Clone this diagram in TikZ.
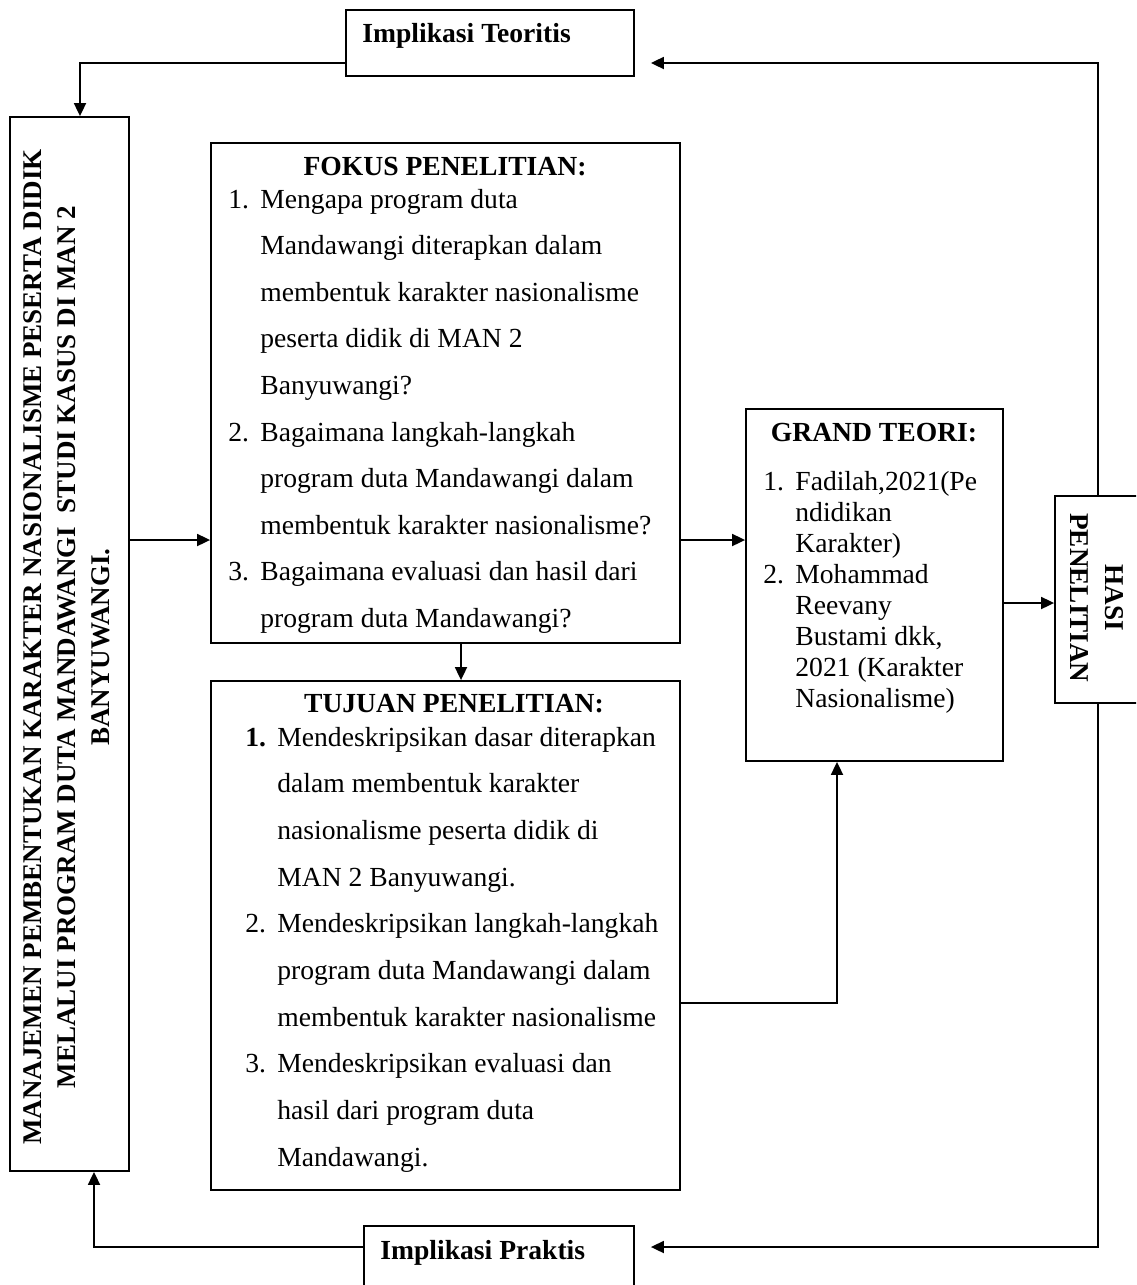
\documentclass[tikz,border=0pt]{standalone}
\usepackage{fontspec}
\setmainfont{Liberation Serif}
\usetikzlibrary{arrows.meta,fit,calc}
\begin{document}
\begin{tikzpicture}[x=0.5pt,y=-0.5pt,
  box/.style={draw,line width=0.9pt,inner sep=0pt,rectangle},
  arr/.style={line width=0.9pt,-{Triangle[length=6.5pt,width=6pt]}},
  txt/.style={anchor=base west,inner sep=0pt,font=\fontsize{13.8}{16}\selectfont},
  ttl/.style={anchor=base,inner sep=0pt,font=\fontsize{13.8}{16}\selectfont\bfseries},
  vtxt/.style={align=center,inner sep=0pt,font=\fontsize{13.5}{17}\selectfont\bfseries},
]
\useasboundingbox (0,0) rectangle (1136,1285);
\fill[white] (0,0) rectangle (1136,1285);
\clip (0,0) rectangle (1136,1285);

% boxes
\node[box,fit={(346,10)(634,76)}] (impT) {};
\node[ttl,anchor=base west] (impTt) at (362,42) {Implikasi Teoritis};
\node[box,fit={(364,1226)(634,1320)}] (impP) {};
\node[ttl,anchor=base west] (impPt) at (380,1259) {Implikasi Praktis};

\node[box,fit={(10,117)(129,1171)}] (left) {};
\node[vtxt,rotate=90] (leftt) at (67,647) {MANAJEMEN PEMBENTUKAN KARAKTER NASIONALISME PESERTA DIDIK\\ MELALUI PROGRAM DUTA MANDAWANGI\ \ STUDI KASUS DI MAN 2\\ BANYUWANGI.};

\node[box,fit={(211,143)(680,643)}] (fokus) {};
\node[box,fit={(211,681)(680,1190)}] (tujuan) {};
\node[box,fit={(746,409)(1003,761)}] (grand) {};
\node[box,fit={(1055,496)(1160,703)}] (hasil) {};
\node[vtxt,rotate=-90,font=\fontsize{13.6}{17.5}\selectfont\bfseries] (hasilt) at (1097,598) {HASI\\PENELITIAN};

% FOKUS text
\node[ttl] (ft) at (445,175) {FOKUS PENELITIAN:};
\foreach \t [count=\i from 0] in {Mengapa program duta, Mandawangi diterapkan dalam, membentuk karakter nasionalisme, peserta didik di MAN 2, Banyuwangi?, Bagaimana langkah-langkah, program duta Mandawangi dalam, membentuk karakter nasionalisme?, Bagaimana evaluasi dan hasil dari, program duta Mandawangi?}
  \node[txt] (fl\i) at (260,208+46.6*\i) {\t};
\node[txt] (fn1) at (228,208) {1.};
\node[txt] (fn2) at (228,208+46.6*5) {2.};
\node[txt] (fn3) at (228,208+46.6*8) {3.};

% TUJUAN text
\node[ttl] (tt) at (454,712) {TUJUAN PENELITIAN:};
\foreach \t [count=\i from 0] in {Mendeskripsikan dasar diterapkan, dalam membentuk karakter, nasionalisme peserta didik di, MAN 2 Banyuwangi., Mendeskripsikan langkah-langkah, program duta Mandawangi dalam, membentuk karakter nasionalisme, Mendeskripsikan evaluasi dan, hasil dari program duta, Mandawangi.}
  \node[txt] (tl\i) at (277,746+46.7*\i) {\t};
\node[txt] (tn1) at (245,746) {\bfseries 1.};
\node[txt] (tn2) at (245,746+46.7*4) {2.};
\node[txt] (tn3) at (245,746+46.7*7) {3.};

% GRAND text
\node[ttl] (gt) at (874,441) {GRAND TEORI:};
\foreach \t [count=\i from 0] in {{Fadilah,2021(Pe}, ndidikan, Karakter), Mohammad, Reevany, {Bustami dkk,}, 2021 (Karakter, Nasionalisme)}
  \node[txt] (gl\i) at (795,490+31*\i) {\t};
\node[txt] (gn1) at (763,490) {1.};
\node[txt] (gn2) at (763,490+31*3) {2.};

% helper coordinates
\coordinate (ya) at (0,540);
\coordinate (yb) at (0,603);
\coordinate (yc) at (0,1003);
\coordinate (yt) at (0,63);
\coordinate (yp) at (0,1247);
\coordinate (xv) at (1098,0);
\coordinate (xl) at (80,0);
\coordinate (xb) at (94,0);
\coordinate (xd) at (461,0);
\coordinate (xg) at (837,0);

% connectors
\draw[arr] (impT.west |- yt) -| (left.north -| xl);
\draw[arr] (left.east |- ya) -- (fokus.west |- ya);
\draw[arr] (fokus.east |- ya) -- (grand.west |- ya);
\draw[arr] (fokus.south -| xd) -- (tujuan.north -| xd);
\draw[arr] (tujuan.east |- yc) -| (grand.south -| xg);
\draw[arr] (grand.east |- yb) -- (hasil.west |- yb);
\draw[arr,shorten >=8pt] (hasil.north -| xv) |- (impT.east |- yt);
\draw[arr,shorten >=8pt] (hasil.south -| xv) |- (impP.east |- yp);
\draw[arr] (impP.west |- yp) -| (left.south -| xb);
\end{tikzpicture}
\end{document}
